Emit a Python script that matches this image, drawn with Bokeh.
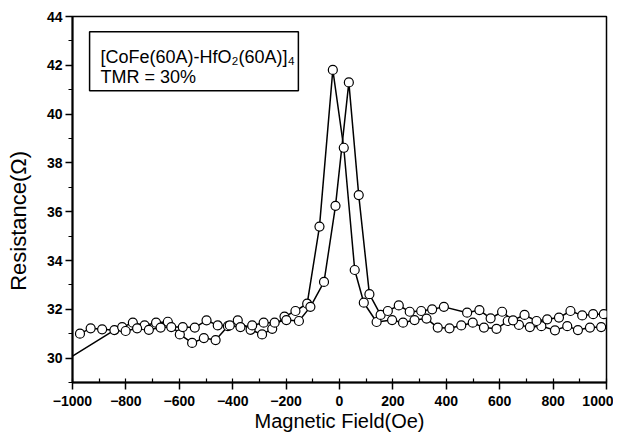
from bokeh.plotting import figure
from bokeh.models import Range1d, Label, BoxAnnotation, FixedTicker
from bokeh.embed import file_html
from bokeh.resources import INLINE

# Branch with peak at negative field
field_a = [-1000, -843, -814, -774, -730, -687, -643, -598, -552, -508, -464, -418,
           -381, -333, -290, -252, -206, -165, -121, -75, -25, 16, 57, 91, 139, 197,
           238, 281, 326, 368, 412, 456, 499, 541, 588, 630, 672, 713, 756, 807, 853,
           893, 938, 980]
res_a = [30.08, 31.15, 31.27, 31.45, 31.34, 31.45, 31.49, 30.97, 30.62, 30.82, 30.74,
         31.31, 31.55, 31.16, 30.97, 31.20, 31.70, 31.93, 32.23, 35.39, 41.81, 38.62,
         33.61, 32.27, 31.48, 31.56, 31.45, 31.56, 31.62, 31.25, 31.22, 31.34, 31.45,
         31.25, 31.20, 31.52, 31.36, 31.27, 31.31, 31.14, 31.31, 31.15, 31.25, 31.27]

# Branch with peak at positive field
field_b = [-972, -932, -889, -801, -758, -714, -670, -630, -587, -542, -498, -456,
           -411, -371, -327, -284, -243, -199, -152, -109, -58, -15, 35, 72, 112, 154,
           181, 222, 263, 306, 347, 391, 478, 524, 566, 609, 650, 693, 738, 778, 822,
           865, 909, 950, 990]
res_b = [31.00, 31.22, 31.18, 31.11, 31.22, 31.16, 31.25, 31.27, 31.27, 31.25, 31.55,
         31.34, 31.34, 31.27, 31.34, 31.45, 31.45, 31.56, 31.52, 32.10, 33.12, 36.24,
         41.30, 36.68, 32.62, 31.77, 31.93, 32.16, 31.90, 31.93, 32.00, 32.10, 31.86,
         31.97, 31.63, 31.90, 31.55, 31.77, 31.52, 31.59, 31.66, 31.93, 31.75, 31.80,
         31.80]

x_ticks = list(range(-1000, 1001, 200))
x_minor = list(range(-1000, 1001, 100))
y_ticks = list(range(30, 45, 2))
y_minor = list(range(29, 45, 1))

FONT = "Liberation Sans"
NBSP = "\u00a0"

p = figure(width=613, height=436, output_backend="svg", toolbar_location=None,
           x_range=Range1d(-1000, 1000), y_range=Range1d(29, 44),
           min_border_left=72, min_border_right=7, min_border_top=16,
           min_border_bottom=54)
p.xgrid.visible = False
p.ygrid.visible = False
p.background_fill_color = "white"
p.border_fill_color = "white"
p.outline_line_color = "black"
p.outline_line_width = 1.5

p.xaxis.ticker = FixedTicker(ticks=x_ticks, minor_ticks=x_minor)
p.yaxis.ticker = FixedTicker(ticks=y_ticks, minor_ticks=y_minor)

for ax in (p.xaxis[0], p.yaxis[0]):
    ax.axis_line_width = 2
    ax.axis_line_color = "black"
    ax.major_tick_line_width = 1.5
    ax.minor_tick_line_width = 1.2
    ax.major_tick_out = 7
    ax.major_tick_in = 0
    ax.major_label_text_font = FONT
    ax.major_label_text_font_size = "14px"
    ax.major_label_text_font_style = "bold"
    ax.major_label_text_color = "black"
    ax.axis_label_text_font = FONT
    ax.axis_label_text_font_style = "normal"
    ax.axis_label_text_color = "black"

p.xaxis.axis_label_text_font_size = "20px"
p.yaxis.axis_label_text_font_size = "22px"
p.xaxis.minor_tick_in = 4
p.xaxis.minor_tick_out = 0
p.yaxis.minor_tick_in = 0
p.yaxis.minor_tick_out = 4
p.xaxis.major_label_standoff = 6
p.yaxis.major_label_standoff = 3
p.xaxis.axis_label = "Magnetic Field(Oe)"
p.yaxis.axis_label = "Resistance(Ω)" + NBSP * 7
p.xaxis.axis_label_standoff = 1
p.yaxis.axis_label_standoff = 13

p.line(field_a, res_a, line_color="black", line_width=1.5)
p.line(field_b, res_b, line_color="black", line_width=1.5)
p.scatter(field_a[1:], res_a[1:], marker="circle", size=9, fill_color="white",
          line_color="black", line_width=1.2)
p.scatter(field_b, res_b, marker="circle", size=9, fill_color="white",
          line_color="black", line_width=1.2)

box = BoxAnnotation(left=-936, right=-154, top=43.38, bottom=40.96,
                    fill_color="white", fill_alpha=1.0, line_color="black",
                    line_width=1.5, line_alpha=1.0)
p.add_layout(box)
p.add_layout(Label(x=-895, y=42.32, text="[CoFe(60A)-HfO₂(60A)]₄",
                   text_font=FONT, text_font_size="18px", text_color="black",
                   text_baseline="alphabetic"))
p.add_layout(Label(x=-895, y=41.54, text="TMR = 30%",
                   text_font=FONT, text_font_size="18px", text_color="black",
                   text_baseline="alphabetic"))

open("out.html", "w").write(file_html(p, INLINE))
